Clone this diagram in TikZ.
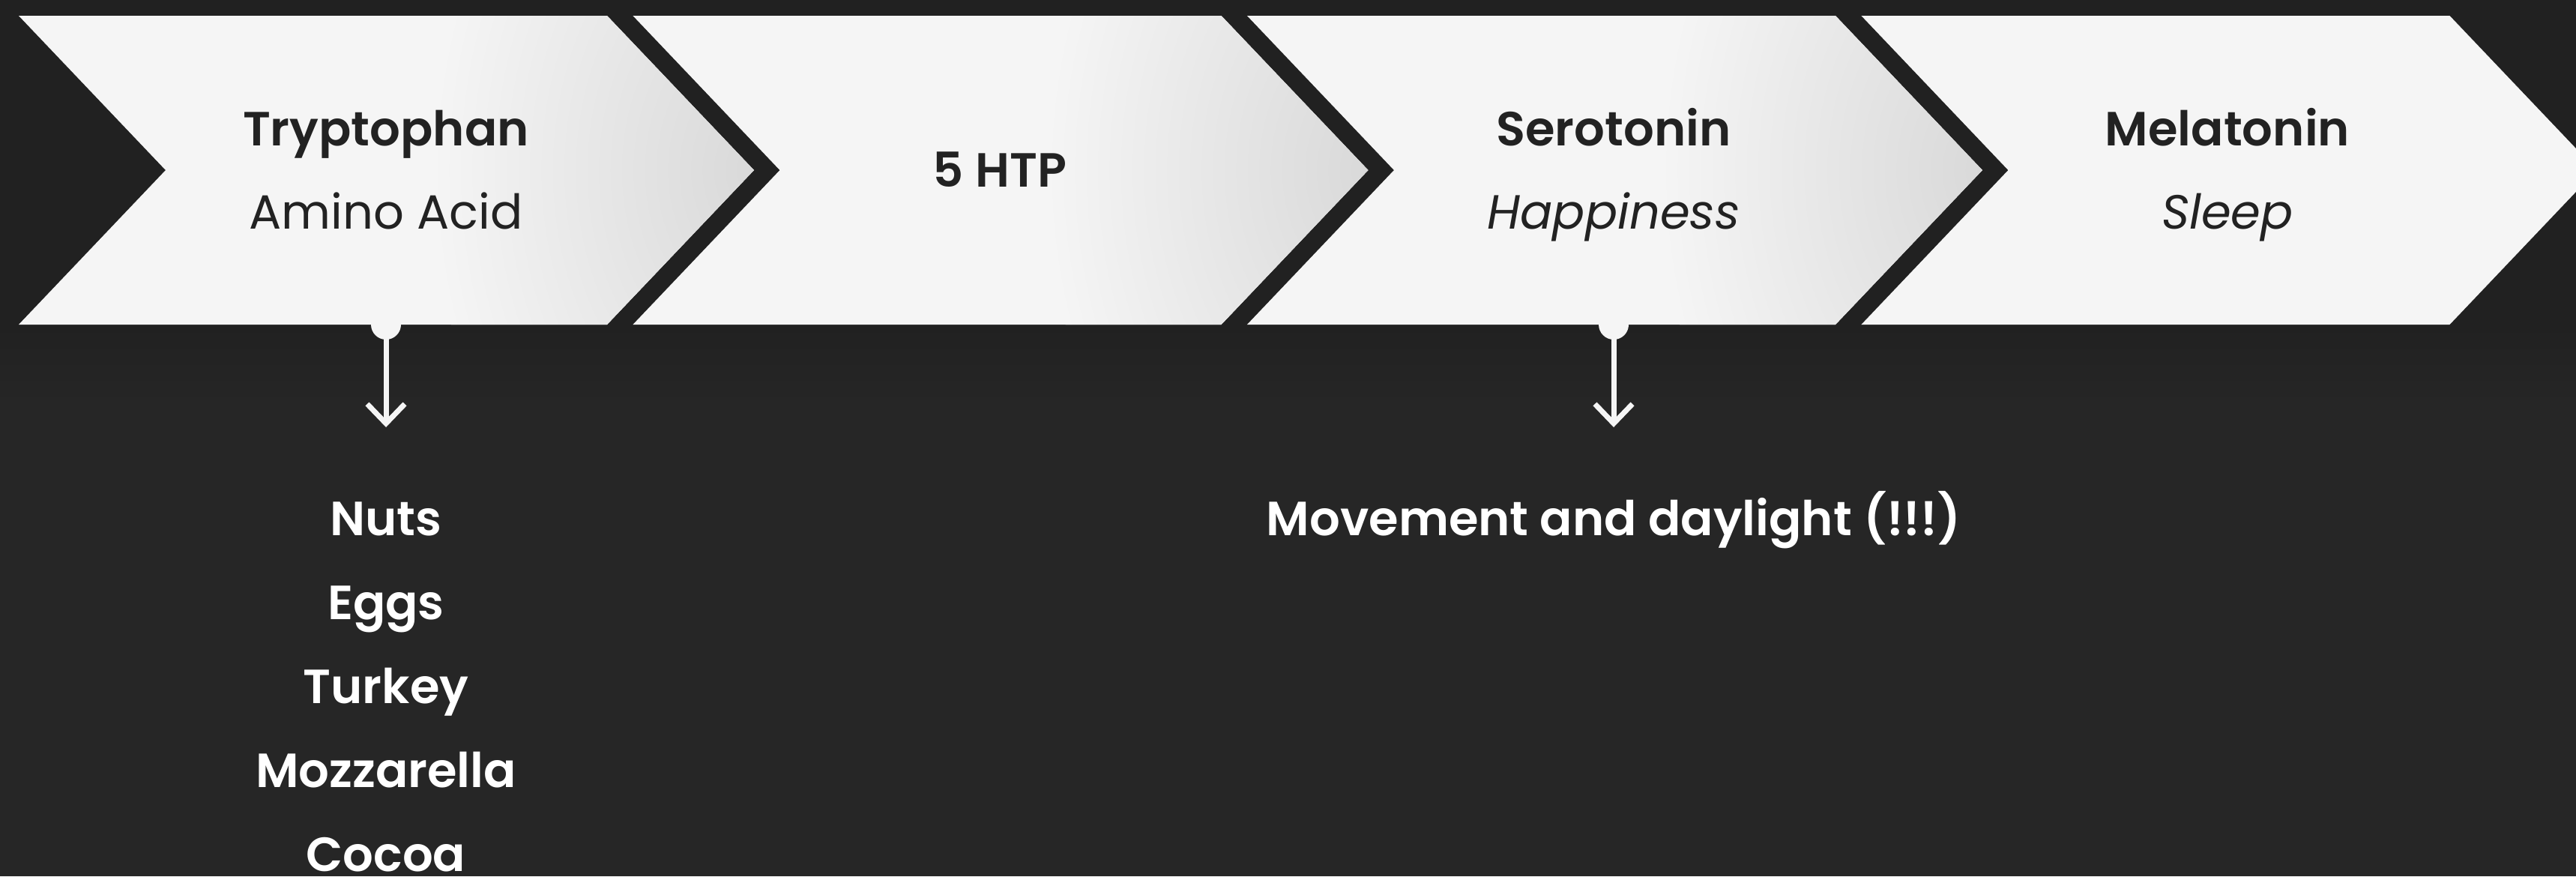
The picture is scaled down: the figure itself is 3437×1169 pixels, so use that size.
\documentclass[tikz,border=0pt]{standalone}
\usepackage{fontspec}
\setmainfont{Poppins}[BoldFont={Poppins SemiBold},ItalicFont={Poppins Italic}]
\usetikzlibrary{arrows.meta}

\definecolor{bgdark}{HTML}{212121}
\definecolor{bgmain}{HTML}{262626}
\definecolor{chevfill}{HTML}{F5F5F5}
\definecolor{chevshade}{HTML}{D9D9D9}
\definecolor{inktext}{HTML}{222222}

% one chevron, in pixel units
\newcommand{\chevpath}{(25,21) -- (810,21) -- (1006,227) -- (810,433) -- (25,433) -- (221,227) -- cycle}

\tikzset{
  chevtitle/.style={anchor=base, text=inktext, font=\fontsize{18.2}{22}\selectfont\bfseries},
  chevsub/.style={anchor=base, text=inktext, font=\fontsize{18.2}{22}\selectfont},
  chevsubit/.style={anchor=base, text=inktext, font=\fontsize{18.2}{22}\selectfont\itshape},
  foodtxt/.style={anchor=base, text=white, font=\fontsize{18.2}{22}\selectfont\bfseries},
  pathline/.style={chevfill, line width=0.07cm, -{Straight Barb[length=0.26cm,width=0.5cm]}},
}

\begin{document}
\begin{tikzpicture}[x=0.01cm, y=-0.01cm]
    \useasboundingbox (0,0) rectangle (3437,1169);
    \clip (0,0) rectangle (3437,1169);

    % Background with soft shadow under the band
    \fill[bgmain] (0,0) rectangle (3437,1169);
    \fill[bgdark] (0,0) rectangle (3437,433);
    \shade[top color=bgdark, bottom color=bgmain] (0,433) rectangle (3437,540);

    % Chevrons
    \foreach \i in {0,1,2,3} {
        \begin{scope}[xshift={\i*8.19cm}]
            \fill[chevfill] \chevpath;
            \ifnum\i<3
                \begin{scope}
                    \clip \chevpath;
                    \shade[inner color=chevshade, outer color=chevfill] (1006,227) ellipse (430 and 600);
                \end{scope}
            \fi
        \end{scope}
    }

    % Labels in the chevrons
    \node[chevtitle] (tryp) at (515,194) {Tryptophan};
    \node[chevsub] (trypsub) at (515,305) {Amino Acid};
    \node[chevtitle] (htp) at (1334,249) {5 HTP};
    \node[chevtitle] (sero) at (2153,194) {Serotonin};
    \node[chevsubit] (serosub) at (2153,305) {Happiness};
    \node[chevtitle] (mela) at (2972,194) {Melatonin};
    \node[chevsubit] (melasub) at (2972,305) {Sleep};

    % Down arrows
    \coordinate (tryp-dot) at (515,433); \coordinate (tryp-end) at (515,570);
    \coordinate (sero-dot) at (2153,433); \coordinate (sero-end) at (2153,570);
    \foreach \p in {tryp,sero} {
        \fill[chevfill] (\p-dot) circle (20);
        \draw[pathline] (\p-dot) -- (\p-end);
    }

    % Sources
    \foreach \food [count=\k from 0] in {Nuts,Eggs,Turkey,Mozzarella,Cocoa}
        \node[foodtxt] (food\k) at (515,{714+112*\k}) {\food};
    \node[foodtxt] (move) at (2153,714) {Movement and daylight (!!!)};
\end{tikzpicture}
\end{document}
